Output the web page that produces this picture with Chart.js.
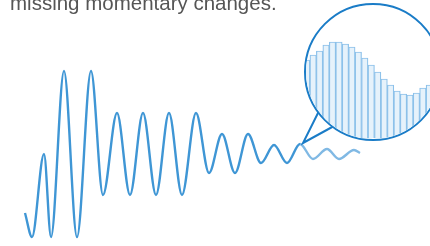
<!DOCTYPE html>
<html>
<head>
<meta charset="utf-8">
<script src="https://cdn.jsdelivr.net/npm/chart.js@4/dist/chart.umd.min.js"></script>
<style>
  html, body { margin: 0; padding: 0; background: #fff; overflow: hidden; }
  body { width: 430px; height: 246px; position: relative; }
  #main { position: absolute; left: 0; top: 0; }
  #caption { position: absolute; left: 10px; top: -7px; font: 20.5px "Liberation Sans", Arial, sans-serif; line-height: 20px; color: #555; white-space: nowrap; }
  #lens { position: absolute; left: 304px; top: 3px; width: 134px; height: 134px; border: 2px solid #1a7cc7; border-radius: 50%; overflow: hidden; background: #fff; }
  #zoom { position: absolute; left: -9px; top: -1px; }
</style>
</head>
<body>
<canvas id="main" width="430" height="246"></canvas>
<div id="caption">missing momentary changes.</div>
<div id="lens"><canvas id="zoom" width="142" height="134"></canvas></div>
<script>
// Waveform: time and amplitude of each turning point
const waveTime = [0, 7, 19, 26, 39, 52, 66, 78, 92, 105, 118, 131, 144, 157, 171, 184, 197, 210, 223, 236, 249, 262, 275, 288, 302, 314, 329, 335];
const waveAmp  = [-59, -83, 0, -83, 83, -83, 83, -41, 41, -41, 41, -41, 41, -41, 41, -19, 20, -19, 20, -9, 9, -9, 10, -5, 5, -5, 4, 1];

// Magnified samples (stepped bars inside the lens)
const sampleIndex = ['s0','s1','s2','s3','s4','s5','s6','s7','s8','s9','s10','s11','s12','s13','s14','s15','s16','s17','s18','s19','s20','s21'];
const sampleValue = [72, 78, 83, 87, 93, 96, 96, 94, 91, 86, 80, 73, 66, 59, 53, 47, 44, 43, 45, 50, 53, 55];

const lightFrom = 275;

const pointerPlugin = {
  id: 'pointer',
  afterDatasetsDraw(chart) {
    const c = chart.ctx;
    c.save();
    c.strokeStyle = '#1a7cc7';
    c.lineWidth = 2;
    c.lineJoin = 'miter';
    c.beginPath();
    c.moveTo(319, 111);
    c.lineTo(303, 143);
    c.lineTo(334, 126);
    c.stroke();
    c.restore();
  }
};

new Chart(document.getElementById('main'), {
  type: 'line',
  data: {
    datasets: [{
      data: waveTime.map((t, i) => ({ x: t, y: waveAmp[i] })),
      borderColor: '#3f96d5',
      borderWidth: 2.4,
      pointRadius: 0,
      cubicInterpolationMode: 'monotone',
      fill: false,
      segment: {
        borderColor: ctx => ctx.p0.parsed.x >= lightFrom ? '#80b9e4' : '#3f96d5'
      }
    }]
  },
  options: {
    responsive: false,
    devicePixelRatio: 1,
    animation: false,
    layout: { padding: 0 },
    plugins: { legend: { display: false }, tooltip: { enabled: false }, title: { display: false } },
    scales: {
      x: { type: 'linear', min: -25, max: 405, display: false },
      y: { type: 'linear', min: -92, max: 154, display: false }
    }
  },
  plugins: [pointerPlugin]
});

new Chart(document.getElementById('zoom'), {
  type: 'bar',
  data: {
    labels: sampleIndex,
    datasets: [{
      data: sampleValue,
      backgroundColor: '#e6f2fb',
      borderColor: '#8cc1ea',
      borderWidth: 1.2,
      barPercentage: 1,
      categoryPercentage: 1
    }]
  },
  options: {
    responsive: false,
    devicePixelRatio: 1,
    animation: false,
    layout: { padding: 0 },
    plugins: { legend: { display: false }, tooltip: { enabled: false } },
    scales: {
      x: { display: false },
      y: { min: 0, max: 134, display: false }
    }
  }
});
</script>
</body>
</html>
